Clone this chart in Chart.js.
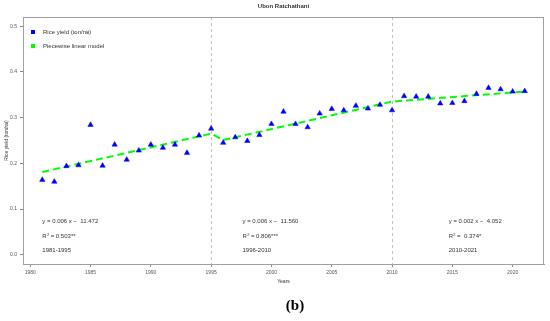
<!DOCTYPE html>
<html>
<head>
<meta charset="utf-8">
<script src="https://cdn.jsdelivr.net/npm/chart.js@4.4.1/dist/chart.umd.min.js"></script>
<style>
  body { margin: 0; background: #ffffff; }
  canvas { display: block; }
</style>
</head>
<body>
<canvas id="yield-chart" width="550" height="321"></canvas>
<script>
// Observed yield, Ubon Ratchathani (ton/rai)
const years = [1981, 1982, 1983, 1984, 1985, 1986, 1987, 1988, 1989, 1990,
               1991, 1992, 1993, 1994, 1995, 1996, 1997, 1998, 1999, 2000,
               2001, 2002, 2003, 2004, 2005, 2006, 2007, 2008, 2009, 2010,
               2011, 2012, 2013, 2014, 2015, 2016, 2017, 2018, 2019, 2020, 2021];
const riceYield = [0.164, 0.160, 0.194, 0.196, 0.284, 0.195, 0.241, 0.208, 0.228, 0.241,
                   0.234, 0.241, 0.223, 0.261, 0.276, 0.245, 0.257, 0.249, 0.262, 0.286,
                   0.313, 0.286, 0.279, 0.309, 0.319, 0.316, 0.326, 0.320, 0.328, 0.316,
                   0.347, 0.346, 0.346, 0.331, 0.332, 0.336, 0.352, 0.365, 0.362, 0.357, 0.358];

// Piecewise linear model (segment end points)
const modelYears = [1981, 1995, 1996, 2010, 2021];
const modelValues = [0.181, 0.265, 0.251, 0.335, 0.357];

const breakYears = [1995, 2010];
const xTicks = [1980, 1985, 1990, 1995, 2000, 2005, 2010, 2015, 2020];
const yTicks = [0.0, 0.1, 0.2, 0.3, 0.4, 0.5];

// Fit labels for each period
const fitEquations = ['y = 0.006 x \u2212  11.472', 'y = 0.006 x \u2212  11.560', 'y = 0.002 x \u2212  4.052'];
const fitR2 = [' = 0.503**', ' = 0.806***', ' =  0.374*'];
const fitPeriods = ['1981-1995', '1996-2010', '2010-2021'];
const fitLabelYears = [1981, 1997.6, 2014.7];

const FONT = '"Liberation Sans", Arial, sans-serif';
const TEXT = '#333333';

const extras = {
    id: 'extras',
    beforeDatasetsDraw(chart) {
        const { ctx, chartArea: a, scales: { x } } = chart;
        ctx.save();
        ctx.strokeStyle = '#c0c0c0';
        ctx.lineWidth = 1;
        ctx.setLineDash([3, 3]);
        breakYears.forEach(yr => {
            const px = Math.round(x.getPixelForValue(yr)) + 0.5;
            ctx.beginPath();
            ctx.moveTo(px, a.top);
            ctx.lineTo(px, a.bottom);
            ctx.stroke();
        });
        ctx.restore();
    },
    afterDraw(chart) {
        const { ctx, chartArea: a, scales: { x, y } } = chart;
        ctx.save();
        // frame
        ctx.strokeStyle = '#a0a0a0';
        ctx.lineWidth = 1;
        ctx.strokeRect(a.left + 0.5, a.top + 0.5, a.right - a.left - 1, a.bottom - a.top);

        ctx.fillStyle = TEXT;
        ctx.textBaseline = 'middle';

        // title
        ctx.textAlign = 'center';
        ctx.font = 'bold 6px ' + FONT;
        ctx.fillText('Ubon Ratchathani', (a.left + a.right) / 2, 6);

        // axis titles
        ctx.font = '5px ' + FONT;
        ctx.fillText('Years', (a.left + a.right) / 2, 282);
        ctx.save();
        ctx.translate(7, (a.top + a.bottom) / 2);
        ctx.rotate(-Math.PI / 2);
        ctx.fillText('Rice yield (ton/rai)', 0, 0);
        ctx.restore();

        // legend
        ctx.textAlign = 'left';
        ctx.font = '6px ' + FONT;
        ctx.fillStyle = '#0000ff';
        ctx.fillRect(31, 30, 4, 4);
        ctx.fillStyle = '#00ff00';
        ctx.fillRect(31, 44, 4, 4);
        ctx.fillStyle = TEXT;
        ctx.fillText('Rice yield (ton/rai)', 43, 32);
        ctx.fillText('Piecewise linear model', 43, 46);

        // fit annotations
        fitLabelYears.forEach((yr, i) => {
            const px = x.getPixelForValue(yr);
            ctx.font = '6px ' + FONT;
            ctx.fillText(fitEquations[i], px, y.getPixelForValue(0.0735));
            const ry = y.getPixelForValue(0.0395);
            ctx.fillText('R', px, ry);
            const rw = ctx.measureText('R').width;
            ctx.font = '4px ' + FONT;
            ctx.fillText('2', px + rw + 0.3, ry - 2.2);
            ctx.font = '6px ' + FONT;
            ctx.fillText(fitR2[i], px + rw + 2.4, ry);
            ctx.fillText(fitPeriods[i], px, y.getPixelForValue(0.010));
        });

        // panel label
        ctx.textAlign = 'center';
        ctx.fillStyle = '#000000';
        ctx.font = 'bold 15px "Liberation Serif", "Times New Roman", serif';
        ctx.fillText('(b)', 295, 306);
        ctx.restore();
    }
};

new Chart(document.getElementById('yield-chart'), {
    type: 'scatter',
    data: {
        datasets: [{
            label: 'Rice yield (ton/rai)',
            data: years.map((yr, i) => ({ x: yr, y: riceYield[i] })),
            pointStyle: 'triangle',
            pointRadius: 3.1,
            pointHoverRadius: 3.1,
            backgroundColor: '#0000ff',
            borderColor: '#0000ff',
            borderWidth: 0.5,
            order: 1
        }, {
            label: 'Piecewise linear model',
            type: 'line',
            data: modelYears.map((yr, i) => ({ x: yr, y: modelValues[i] })),
            borderColor: '#00ff00',
            borderWidth: 2,
            borderDash: [7, 4],
            pointRadius: 0,
            fill: false,
            tension: 0,
            order: 2
        }]
    },
    options: {
        responsive: false,
        animation: false,
        devicePixelRatio: 1,
        layout: { padding: { top: 17, right: 6, left: 0, bottom: 0 } },
        plugins: {
            legend: { display: false },
            title: { display: false },
            tooltip: { enabled: false }
        },
        scales: {
            x: {
                type: 'linear',
                min: 1979.4,
                max: 2022.6,
                afterFit: s => { s.height = 57; },
                afterBuildTicks: s => { s.ticks = xTicks.map(v => ({ value: v })); },
                grid: { display: true, drawOnChartArea: false, drawTicks: true, tickLength: 3, color: '#888888' },
                border: { display: true, color: '#a0a0a0' },
                ticks: {
                    color: '#555555',
                    font: { family: FONT, size: 5 },
                    padding: 3,
                    maxRotation: 0,
                    autoSkip: false,
                    callback: v => String(v)
                }
            },
            y: {
                min: -0.02,
                max: 0.52,
                afterFit: s => { s.width = 23; },
                afterBuildTicks: s => { s.ticks = yTicks.map(v => ({ value: v })); },
                grid: { display: true, drawOnChartArea: false, drawTicks: true, tickLength: 3, color: '#888888' },
                border: { display: true, color: '#a0a0a0' },
                ticks: {
                    color: '#555555',
                    font: { family: FONT, size: 5 },
                    padding: 3,
                    autoSkip: false,
                    callback: v => Number(v).toFixed(1)
                }
            }
        }
    },
    plugins: [extras]
});
</script>
</body>
</html>
